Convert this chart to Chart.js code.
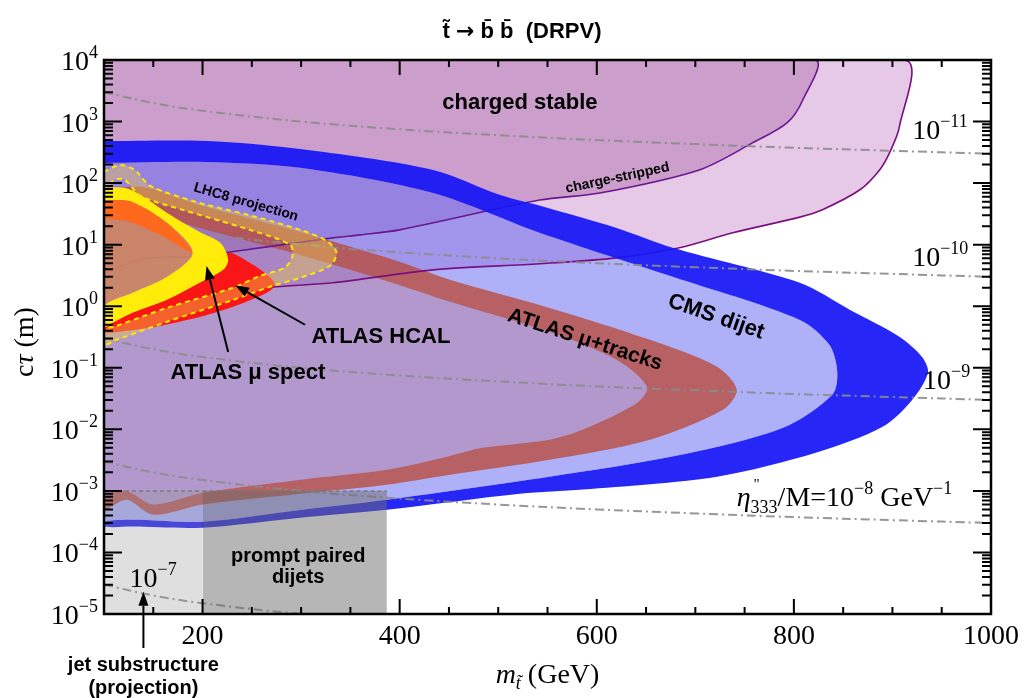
<!DOCTYPE html>
<html>
<head>
<meta charset="utf-8">
<title>stop to b b (DRPV) limits</title>
<script src="https://cdn.jsdelivr.net/npm/chart.js@4.4.1/dist/chart.umd.min.js"></script>
<style>
  html, body { margin: 0; padding: 0; background: #fff; }
</style>
</head>
<body>
<canvas id="chart" width="1035" height="698"></canvas>
<script>
// contours: [stop mass (GeV), c*tau (m)]
const chargeStripped = [[100, 1e4], [912, 1e4], [907, 817], [897, 309], [887, 164], [867, 78], [829, 37], [806, 28], [738, 15.6], [684, 8.9], [620, 6.1], [542, 4.9], [434, 3.9], [332, 2.4], [275, 2.07], [208, 1.53], [154, 1.18], [100, 0.87]];
const chargedStable = [[100, 1e4], [821, 1e4], [809, 2240], [793, 950], [758, 450], [704, 164], [603, 69], [542, 53], [400, 17.4], [360, 14.4], [332, 12.9], [228, 7.6], [187, 6.3], [140, 5.9], [100, 3.4]];

const cmsOuter = [[100, 484], [204, 484], [299, 359], [434, 164], [502, 64], [547, 41], [620, 18.7], [677, 8.9], [806, 2.4], [857, 0.87], [907, 0.32], [930, 0.15], [936, 0.083], [920, 0.03], [890, 0.011], [823, 0.0042], [722, 0.0017], [586, 0.00105], [522, 0.0009], [387, 0.000495], [299, 0.000367], [200, 0.000253], [129, 0.000263], [100, 0.000263]];
const cmsInner = [[100, 213], [204, 221], [299, 177], [434, 69], [542, 15.6], [677, 3.0], [806, 0.6], [836, 0.236], [844, 0.086], [839, 0.0365], [789, 0.0106], [687, 0.0039], [552, 0.0017], [387, 0.00072], [299, 0.00049], [200, 0.000316], [129, 0.00034], [100, 0.000316]];

const atlasOuter = [[100, 84], [144, 84], [197, 44], [299, 16.1], [400, 5.3], [451, 2.7], [552, 0.94], [654, 0.285], [722, 0.104], [742, 0.044], [728, 0.0208], [654, 0.0068], [552, 0.0032], [451, 0.00183], [387, 0.00126], [299, 0.0009], [200, 0.0006], [150, 0.00041], [123, 0.00072], [100, 0.000495]];
const atlasInner = [[100, 44], [144, 34], [197, 18.7], [299, 6.8], [400, 2.2], [451, 1.18], [552, 0.38], [620, 0.135], [651, 0.049], [641, 0.027], [586, 0.0099], [552, 0.0068], [484, 0.005], [451, 0.0037], [387, 0.0022], [299, 0.00152], [200, 0.00093], [150, 0.0006], [123, 0.001], [100, 0.0008]];

const muSpectOuter = [[100, 84], [121, 84], [140, 60], [164, 32.8], [197, 16.1], [218, 10.7], [226, 5.7], [221, 3.9], [197, 2.4], [164, 1.27], [129, 0.78], [109, 0.54], [100, 0.46]];
const muSpectInner = [[100, 53], [109, 53], [129, 49.5], [164, 22.6], [190, 7.4], [164, 3.0], [129, 1.65], [100, 1.0]];
const muSpectStrip = [[100, 53], [109, 53], [129, 49.5], [164, 22.6], [190, 7.4], [157, 14.4], [126, 23.4], [100, 27]];
const hcal = [[100, 0.6], [147, 1.27], [197, 2.4], [221, 4.2], [226, 7.4], [248, 5.1], [268, 3.0], [273, 2.2], [265, 1.65], [231, 0.98], [197, 0.67], [147, 0.45], [106, 0.37], [100, 0.38]];

const lhc8Outer = [[100, 152], [116, 197], [131, 164], [147, 90], [197, 47.7], [250, 29.4], [299, 17.4], [326, 11.5], [336, 7.4], [329, 4.5], [299, 2.9], [271, 2.14], [231, 1.27], [164, 0.56], [113, 0.285], [100, 0.236]];
const lhc8Inner = [[100, 77.6], [111, 113], [121, 113], [137, 62], [180, 36.7], [248, 17.4], [289, 9.9], [291, 6.3], [283, 4.2], [258, 3.1], [231, 2.0], [164, 0.94], [113, 0.48], [100, 0.41]];

// prompt searches (boxes up to c*tau = 1e-3 m)
const promptTop = 1e-3;
const jetSubMass = [100, 200];
const promptMass = [200, 387];

// eta''333/M contours, c*tau read at these masses
const etaMass = [100, 150, 200, 300, 400, 500, 600, 700, 800, 900, 1000];
const eta11 = [3000, 2000, 1500, 1000, 750, 600, 500, 430, 375, 335, 300];
const eta10 = [30, 20, 15, 10, 7.5, 6, 5, 4.3, 3.75, 3.35, 3];
const eta9 = [0.3, 0.2, 0.15, 0.1, 0.075, 0.06, 0.05, 0.043, 0.0375, 0.0335, 0.03];
const eta8 = [3e-3, 2e-3, 1.5e-3, 1e-3, 7.5e-4, 6e-4, 5e-4, 4.3e-4, 3.75e-4, 3.35e-4, 3e-4];
const eta7 = [3e-5, 2e-5, 1.5e-5, 1e-5, 7.5e-6];

const xTickLabels = [200, 400, 600, 800, 1000];
const yDecades = [-5, -4, -3, -2, -1, 0, 1, 2, 3, 4];

// text placed in data coordinates
const regionLabels = [
  { text: 'charged stable', m: 522, ctau: 2000, size: 22, angle: 0 },
  { text: 'charge-stripped', m: 621, ctau: 121, size: 14, angle: -12 },
  { text: 'LHC8 projection', m: 244, ctau: 49, size: 14, angle: 16 },
  { text: 'CMS dijet', m: 721, ctau: 0.67, size: 22, angle: 19 },
  { text: 'ATLAS μ+tracks', m: 588, ctau: 0.285, size: 21, angle: 18 },
  { text: 'ATLAS HCAL', m: 381, ctau: 0.318, size: 22, angle: 0 },
  { text: 'ATLAS μ spect', m: 246, ctau: 0.083, size: 22, angle: 0 },
  { text: 'prompt paired', m: 297, ctau: 8.5e-5, size: 20, angle: 0 },
  { text: 'dijets', m: 297, ctau: 3.9e-5, size: 20, angle: 0 }
];
const etaLabels = [
  { exp: '−11', m: 920, ctau: 731 },
  { exp: '−10', m: 920, ctau: 6.3 },
  { exp: '−9', m: 931, ctau: 0.064 },
  { exp: '−7', m: 126, ctau: 3.9e-5 }
];
const arrows = [
  { from: [226, 0.18], to: [204, 4.5] },
  { from: [304, 0.5], to: [233, 2.2] }
];

const SERIF = '"Liberation Serif", "Times New Roman", serif';
const SANS = '"Liberation Sans", Arial, sans-serif';

const pts = list => list.map(([x, y]) => ({ x, y }));
const ring = (outer, inner) => pts(outer.concat(inner.slice().reverse()));
const curve = (xs, ys) => ys.map((y, i) => ({ x: xs[i], y }));

function area(data, color, extra) {
  return Object.assign({
    data, showLine: true, fill: 'shape', backgroundColor: color,
    borderColor: 'transparent', borderWidth: 0, pointRadius: 0, tension: 0.3
  }, extra || {});
}
function edge(data, color) {
  return {
    data, showLine: true, fill: false, borderColor: color, borderWidth: 1.6,
    pointRadius: 0, tension: 0.3
  };
}
function etaLine(ys) {
  return {
    data: curve(etaMass, ys), showLine: true, fill: false,
    borderColor: 'rgba(140,140,140,0.9)', borderWidth: 2, borderDash: [9, 4, 2, 4],
    pointRadius: 0, tension: 0.4
  };
}
function box(xs, color) {
  return {
    data: xs.map(x => ({ x, y: promptTop })), showLine: true, fill: 'start',
    backgroundColor: color, borderColor: 'rgba(120,120,120,0.9)', borderWidth: 1.5,
    borderDash: [4, 3], pointRadius: 0, tension: 0
  };
}

// bottom layer first
const layers = [
  area(pts(chargeStripped), 'rgba(155,40,155,0.25)'),
  area(pts(chargedStable), 'rgba(143,61,143,0.30)'),
  area(pts(cmsInner), 'rgba(102,106,241,0.53)'),
  area(pts(atlasInner), 'rgba(190,90,90,0.27)'),
  area(ring(atlasOuter, atlasInner), 'rgba(185,72,52,0.76)'),
  edge(pts(chargeStripped), '#7a1080'),
  edge(pts(chargedStable), '#6a1890'),
  area(ring(cmsOuter, cmsInner), 'rgba(22,22,245,0.93)'),
  area(pts(muSpectInner), 'rgba(205,135,100,0.92)'),
  etaLine(eta11), etaLine(eta10), etaLine(eta9), etaLine(eta8), etaLine(eta7),
  area(pts(muSpectStrip), 'rgb(255,105,30)'),
  area(pts(hcal), 'rgb(250,22,22)'),
  area(ring(muSpectOuter, muSpectInner), 'rgb(255,236,10)'),
  area(ring(lhc8Outer, lhc8Inner), 'rgba(237,203,76,0.42)', { borderColor: '#ffe600', borderWidth: 2, borderDash: [5, 4] }),
  box(jetSubMass, 'rgba(150,150,150,0.3)'),
  box(promptMass, 'rgba(110,110,110,0.5)')
];

// rich text: parts = [{t, size, dy, dx, italic, bold, font, skip}]
function drawRich(ctx, parts, x, y, align) {
  const fontOf = p => `${p.italic ? 'italic ' : ''}${p.bold ? 'bold ' : ''}${p.size}px ${p.font || SERIF}`;
  let total = 0;
  parts.forEach(p => { if (!p.skip) { ctx.font = fontOf(p); total += ctx.measureText(p.t).width; } });
  let cx = align === 'right' ? x - total : align === 'center' ? x - total / 2 : x;
  ctx.textAlign = 'left';
  ctx.textBaseline = 'alphabetic';
  parts.forEach(p => {
    ctx.font = fontOf(p);
    ctx.fillText(p.t, cx + (p.dx || 0), y + (p.dy || 0));
    if (!p.skip) cx += ctx.measureText(p.t).width;
  });
}
const power = exp => [{ t: '10', size: 28 }, { t: exp, size: 18, dy: -12 }];

function arrow(ctx, x0, y0, x1, y1) {
  const a = Math.atan2(y1 - y0, x1 - x0), head = 14, half = 5;
  const c = Math.cos(a), s = Math.sin(a);
  ctx.beginPath();
  ctx.moveTo(x0, y0);
  ctx.lineTo(x1 - head * c, y1 - head * s);
  ctx.stroke();
  ctx.beginPath();
  ctx.moveTo(x1, y1);
  ctx.lineTo(x1 - head * c + half * s, y1 - head * s - half * c);
  ctx.lineTo(x1 - head * c - half * s, y1 - head * s + half * c);
  ctx.closePath();
  ctx.fill();
}

const decorations = {
  id: 'decorations',
  afterDatasetsDraw(chart) {
    const { ctx, chartArea: a, scales: { x, y } } = chart;
    ctx.save();
    ctx.fillStyle = '#000';
    ctx.strokeStyle = '#000';

    regionLabels.forEach(l => {
      ctx.save();
      ctx.translate(x.getPixelForValue(l.m), y.getPixelForValue(l.ctau));
      ctx.rotate(l.angle * Math.PI / 180);
      ctx.font = `bold ${l.size}px ${SANS}`;
      ctx.textAlign = 'center';
      ctx.textBaseline = 'middle';
      ctx.fillText(l.text, 0, 0);
      ctx.restore();
    });

    etaLabels.forEach(l => {
      drawRich(ctx, power(l.exp), x.getPixelForValue(l.m), y.getPixelForValue(l.ctau) + 9, 'left');
    });
    drawRich(ctx, [
      { t: 'η', size: 28, italic: true },
      { t: '"', size: 15, dy: -17, dx: 3, skip: true },
      { t: '333', size: 18, dy: 7 },
      { t: '/M=10', size: 28 },
      { t: '−8', size: 18, dy: -12 },
      { t: ' GeV', size: 28 },
      { t: '−1', size: 18, dy: -12 }
    ], x.getPixelForValue(742), y.getPixelForValue(8.0e-4) + 9, 'left');

    ctx.lineWidth = 2;
    arrows.forEach(r => {
      arrow(ctx, x.getPixelForValue(r.from[0]), y.getPixelForValue(r.from[1]),
        x.getPixelForValue(r.to[0]), y.getPixelForValue(r.to[1]));
    });
    const jx = x.getPixelForValue(140);
    arrow(ctx, jx, a.bottom + 34, jx, y.getPixelForValue(2.3e-5));
    ctx.font = `bold 20px ${SANS}`;
    ctx.textAlign = 'center';
    ctx.textBaseline = 'middle';
    ctx.fillText('jet substructure', jx, a.bottom + 51);
    ctx.fillText('(projection)', jx, a.bottom + 74);

    // frame and inward ticks
    ctx.lineWidth = 2;
    for (let v = 150; v < 1000; v += 50) {
      const px = x.getPixelForValue(v), len = v % 200 === 0 ? 15 : 7;
      ctx.beginPath();
      ctx.moveTo(px, a.bottom); ctx.lineTo(px, a.bottom - len);
      ctx.moveTo(px, a.top); ctx.lineTo(px, a.top + len);
      ctx.stroke();
    }
    yDecades.forEach(k => {
      for (let d = 1; d <= 9; d++) {
        if (k === 4 && d > 1) break;
        const py = y.getPixelForValue(d * Math.pow(10, k)), len = d === 1 ? 18 : 9;
        ctx.beginPath();
        ctx.moveTo(a.left, py); ctx.lineTo(a.left + len, py);
        ctx.moveTo(a.right, py); ctx.lineTo(a.right - len, py);
        ctx.stroke();
      }
    });
    ctx.lineWidth = 2.5;
    ctx.strokeRect(a.left, a.top, a.right - a.left, a.bottom - a.top);

    // tick labels
    ctx.font = `28px ${SERIF}`;
    ctx.textAlign = 'center';
    ctx.textBaseline = 'middle';
    xTickLabels.forEach(v => ctx.fillText(String(v), x.getPixelForValue(v), a.bottom + 23));
    yDecades.forEach(k => {
      const exp = k < 0 ? '−' + (-k) : String(k);
      drawRich(ctx, power(exp), a.left - 6, y.getPixelForValue(Math.pow(10, k)) + 10, 'right');
    });

    // axis titles
    drawRich(ctx, [
      { t: 'm', size: 28, italic: true },
      { t: 't̃', size: 18, italic: true, dy: 6 },
      { t: ' (GeV)', size: 28 }
    ], (a.left + a.right) / 2, a.bottom + 69, 'center');
    ctx.save();
    ctx.translate(24, (a.top + a.bottom) / 2 + 5);
    ctx.rotate(-Math.PI / 2);
    drawRich(ctx, [
      { t: 'c', size: 28 },
      { t: 'τ', size: 28, italic: true },
      { t: ' (m)', size: 28 }
    ], 0, 9, 'center');
    ctx.restore();

    // title
    const TSANS = '"Liberation Sans", "DejaVu Sans", sans-serif';
    drawRich(ctx, [
      { t: 't̃ ', size: 22, bold: true, font: TSANS },
      { t: '→', size: 22, bold: true, font: '"DejaVu Sans", sans-serif' },
      { t: ' b̄ b̄  (DRPV)', size: 22, bold: true, font: TSANS }
    ], 522, 38, 'center');
    ctx.restore();
  }
};

new Chart(document.getElementById('chart'), {
  type: 'scatter',
  data: { datasets: layers.slice().reverse() },
  options: {
    responsive: false,
    devicePixelRatio: 1,
    animation: false,
    events: [],
    layout: { padding: { left: 104, right: 44, top: 60, bottom: 84 } },
    plugins: { legend: { display: false }, tooltip: { enabled: false }, title: { display: false } },
    scales: {
      x: { type: 'linear', min: 100, max: 1000, display: false },
      y: { type: 'logarithmic', min: 1e-5, max: 1e4, display: false }
    }
  },
  plugins: [decorations]
});
</script>
</body>
</html>
